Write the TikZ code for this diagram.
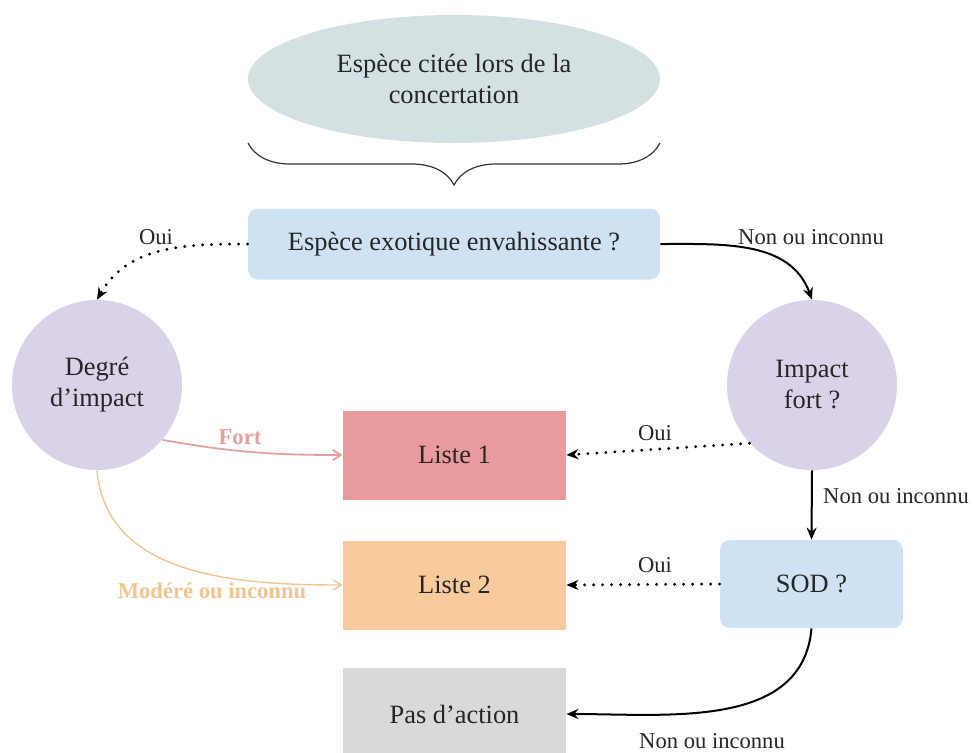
\documentclass[tikz,border=0pt]{standalone}
\usepackage{fontspec}
\setmainfont{Liberation Serif}
\usetikzlibrary{arrows.meta,decorations.pathreplacing,shapes.geometric}
\definecolor{ellc}{HTML}{D3E1E3}
\definecolor{bluec}{HTML}{CFE2F3}
\definecolor{lavc}{HTML}{D9D2E9}
\definecolor{redc}{HTML}{E99A9C}
\definecolor{orac}{HTML}{F9CB9C}
\definecolor{grayc}{HTML}{D9D9D9}
\definecolor{pinkline}{HTML}{E3A0A0}
\definecolor{oraline}{HTML}{F3C48F}
\begin{document}
\begin{tikzpicture}[x=0.5pt,y=-0.5pt,
  txt/.style={font=\fontsize{13.2}{15.5}\selectfont, text=black!85, align=center},
  lbl/.style={font=\fontsize{11.3}{13}\selectfont, text=black!85},
  bluebox/.style={txt, fill=bluec, rounded corners=5pt, inner sep=0pt},
  listbox/.style={txt, inner sep=0pt, minimum width=111.5pt, minimum height=44.5pt},
  circ/.style={txt, circle, fill=lavc, minimum size=85pt, inner sep=0pt},
  solidarr/.style={-{Stealth[length=6pt,width=5pt,inset=2pt]}, line width=1pt, black},
  dotarr/.style={-{Stealth[length=6pt,width=5pt,inset=2pt,line cap=butt]}, line width=1.6pt, black, line cap=round, dash pattern=on 0pt off 4.5pt},
  thinarr/.style={-{Straight Barb[length=4pt,width=5pt]}, line width=0.9pt}
]
\useasboundingbox (0,0) rectangle (973,752);
% top ellipse
\node[txt, ellipse, fill=ellc, minimum width=206pt, minimum height=64pt, inner sep=0pt] (ell) at (454,79) {Espèce citée lors de la\\concertation};
\coordinate (bl) at (248,143);
\coordinate (br) at (660,143);
\draw[black!80, line width=0.6pt, decorate, decoration={brace, mirror, amplitude=21pt}] (bl) -- (br);
% nodes
\node[bluebox, minimum width=206pt, minimum height=35.5pt] (eee) at (454,244) {Espèce exotique envahissante ?};
\node[circ] (deg) at (97,385) {Degré\\d’impact};
\node[circ] (imp) at (812,385) {Impact\\fort ?};
\node[listbox, fill=redc] (l1) at (454.5,455) {Liste 1};
\node[listbox, fill=orac] (l2) at (454.5,585) {Liste 2};
\node[bluebox, minimum width=91.5pt, minimum height=44pt] (sod) at (811.5,584) {SOD ?};
\node[listbox, fill=grayc, minimum height=46pt] (pas) at (454.5,714) {Pas d’action};
% connectors
\draw[dotarr] (eee.west) to[out=180,in=60] (deg.north);
\node[lbl] (oui1) at (156,237) {Oui};
\draw[solidarr] (eee.east) to[out=0,in=110] (imp.north);
\node[lbl] (non1) at (811,237) {Non ou inconnu};
\draw[thinarr, pinkline] (deg.-40) to[out=-10,in=180] (l1.west);
\node[lbl, text=pinkline, font=\fontsize{11.3}{13}\selectfont\bfseries] (fort) at (240,437) {Fort};
\draw[thinarr, oraline, line width=0.7pt] (deg.south) to[out=-85,in=180] (l2.west);
\node[lbl, text=oraline, font=\fontsize{11.3}{13}\selectfont\bfseries] (mod) at (212,591) {Modéré ou inconnu};
\draw[dotarr] (imp.-137) -- (l1.east);
\node[lbl] (oui2) at (655,433) {Oui};
\draw[solidarr] (imp.south) -- (sod.north);
\node[lbl] (non2) at (896,496) {Non ou inconnu};
\draw[dotarr] (sod.west) -- (l2.east);
\node[lbl] (oui3) at (655,565) {Oui};
\draw[solidarr] (sod.south) to[out=-95,in=0] (pas.east);
\node[lbl] (non3) at (712,741) {Non ou inconnu};
\end{tikzpicture}
\end{document}
